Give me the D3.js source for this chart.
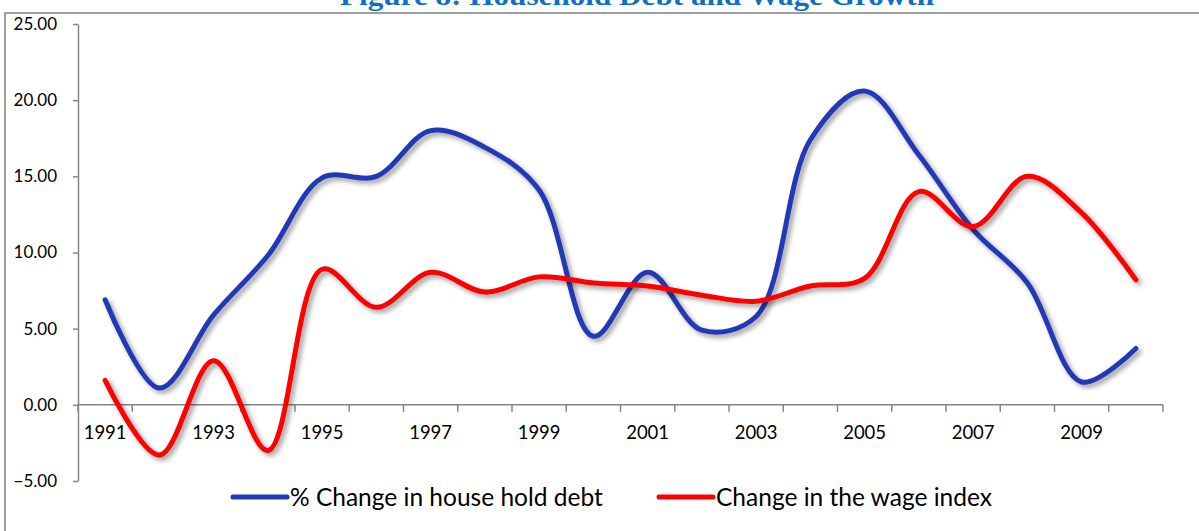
<!DOCTYPE html>
<html>
<head>
<meta charset="utf-8">
<script src="https://cdn.jsdelivr.net/npm/d3@7/dist/d3.min.js"></script>
<style>
  html, body { margin: 0; padding: 0; background: #fff; }
  svg { display: block; }
</style>
</head>
<body>
<svg id="chart" width="1199" height="531"></svg>
<script>
// Annual figures, 1991-2010
const years = [1991, 1992, 1993, 1994, 1995, 1996, 1997, 1998, 1999, 2000,
               2001, 2002, 2003, 2004, 2005, 2006, 2007, 2008, 2009, 2010];
const debtChange = [6.9, 1.1, 5.9, 9.8, 14.9, 15.0, 18.0, 16.9, 14.1, 4.5,
                    8.7, 4.9, 5.8, 17.4, 20.6, 16.4, 11.5, 8.0, 1.5, 3.7];
const wageChange = [1.6, -3.3, 2.9, -3.0, 8.9, 6.4, 8.7, 7.4, 8.4, 8.0,
                    7.8, 7.2, 6.8, 7.8, 8.3, 14.0, 11.7, 15.0, 12.6, 8.2];
const yTicks = [-5, 0, 5, 10, 15, 20, 25];
const seriesNames = ["% Change in house hold debt", "Change in the wage index"];
const titleText = "Figure 8: Household Debt and Wage Growth";

(function () {
const svg = d3.select("#chart");
const W = 1199, H = 531;
const plotLeft = 78, plotRight = 1163, plotTop = 24, plotBottom = 481;
const axisColor = "#868686";
const blue = "#2338b4", red = "#ff0000";
const font = "Lato, 'Open Sans', sans-serif";

// Drop shadow for the series lines
const defs = svg.append("defs");
const f = defs.append("filter").attr("id", "shadow")
  .attr("x", "-10%").attr("y", "-10%").attr("width", "120%").attr("height", "120%");
f.append("feDropShadow").attr("dx", 3).attr("dy", 3).attr("stdDeviation", 2.6)
  .attr("flood-color", "#000").attr("flood-opacity", 0.4);

// Outer chart frame (only its top and left edges fall inside the view)
svg.append("path")
  .attr("d", `M5,${H + 5} L5,13 L${W + 5},13`)
  .attr("fill", "none").attr("stroke", "#808080").attr("stroke-width", 1.5);

// Title, partly above the frame
svg.append("text")
  .attr("x", 637).attr("y", 5)
  .attr("text-anchor", "middle")
  .attr("font-family", "'Liberation Serif', 'DejaVu Serif', serif")
  .attr("font-weight", "bold")
  .attr("font-size", 27)
  .attr("fill", "#0f6fc6")
  .attr("textLength", 594).attr("lengthAdjust", "spacingAndGlyphs")
  .text(titleText);

const x = d3.scaleBand().domain(years).range([plotLeft, plotRight]);
const y = d3.scaleLinear().domain([-5, 25]).range([plotBottom, plotTop]);
const xc = d => x(d) + x.bandwidth() / 2;

// Y axis
const yAxis = svg.append("g").attr("transform", `translate(${plotLeft},0)`)
  .call(d3.axisLeft(y).tickValues(yTicks).tickFormat(d3.format(".2f")).tickSize(5).tickSizeOuter(0));
yAxis.select(".domain").attr("stroke", axisColor).attr("stroke-width", 1.5);
yAxis.selectAll(".tick line").attr("stroke", axisColor).attr("stroke-width", 1.5);
yAxis.selectAll(".tick text")
  .attr("x", -21)
  .attr("font-family", font)
  .attr("font-size", 17).attr("fill", "#000");

// X axis along zero, with tick marks at category boundaries
const xAxisG = svg.append("g").attr("transform", `translate(0,${y(0)})`);
xAxisG.append("line").attr("x1", plotLeft).attr("x2", plotRight)
  .attr("stroke", axisColor).attr("stroke-width", 1.5);
const boundaries = years.map(d => x(d)).concat([plotRight]);
xAxisG.selectAll("line.tk").data(boundaries).join("line")
  .attr("class", "tk")
  .attr("x1", d => d).attr("x2", d => d).attr("y1", 0).attr("y2", 7)
  .attr("stroke", axisColor).attr("stroke-width", 1.5);
xAxisG.selectAll("text").data(years.filter((d, i) => i % 2 === 0)).join("text")
  .attr("x", d => xc(d)).attr("y", 34)
  .attr("text-anchor", "middle")
  .attr("font-family", font)
  .attr("font-size", 18.5).attr("fill", "#000")
  .text(d => d);

// Smoothed series lines
const line = d3.line()
  .x((d, i) => xc(years[i]))
  .y(d => y(d))
  .curve(d3.curveCatmullRom.alpha(0.5));

[[debtChange, blue], [wageChange, red]].forEach(([vals, col]) => {
  svg.append("path")
    .datum(vals)
    .attr("d", line)
    .attr("fill", "none")
    .attr("stroke", col)
    .attr("stroke-width", 5)
    .attr("stroke-linecap", "round")
    .attr("stroke-linejoin", "round")
    .attr("filter", "url(#shadow)");
});

// Legend
const legendItems = [
  { name: seriesNames[0], color: blue, x0: 233 },
  { name: seriesNames[1], color: red, x0: 659 }
];
const lg = svg.append("g");
legendItems.forEach(it => {
  lg.append("line")
    .attr("x1", it.x0).attr("x2", it.x0 + 54)
    .attr("y1", 497).attr("y2", 497)
    .attr("stroke", it.color).attr("stroke-width", 5).attr("stroke-linecap", "round");
  lg.append("text")
    .attr("x", it.x0 + 57).attr("y", 506)
    .attr("font-family", font)
    .attr("font-size", 24.5).attr("fill", "#000")
    .text(it.name);
});
})();
</script>
</body>
</html>
